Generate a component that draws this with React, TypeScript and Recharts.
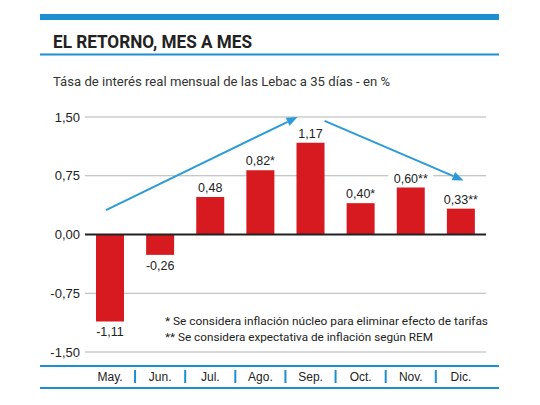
import { Bar, BarChart, CartesianGrid, LabelList, ReferenceLine, XAxis, YAxis } from "recharts";

const months = ["May.", "Jun.", "Jul.", "Ago.", "Sep.", "Oct.", "Nov.", "Dic."];
const rates = [-1.11, -0.26, 0.48, 0.82, 1.17, 0.4, 0.6, 0.33];
const notes = ["", "", "", "*", "", "*", "**", "**"];
const yTicks = [-1.5, -0.75, 0, 0.75, 1.5];

// trend arrows, in (month index, rate) units
const trendUp = [
  { x: -0.08, y: 0.31 },
  { x: 3.74, y: 1.5 },
];
const trendDown = [
  { x: 4.28, y: 1.45 },
  { x: 7.05, y: 0.69 },
];

const data = months.map((m, i) => ({ month: m, pos: i, rate: rates[i], note: notes[i] }));

const BLUE = "#1b8fcf";
const ARROW = "#2a9bd6";
const RED = "#d71920";
const TEXT = "#222";
const LABEL_FONT = "'Liberation Sans', Arial, sans-serif";
const NARROW_FONT = "Roboto, 'Noto Sans', sans-serif";

const fmt = (v: number) => v.toFixed(2).replace(".", ",");

function Arrow(props: any) {
  const { x1, y1, x2, y2 } = props;
  const ang = Math.atan2(y2 - y1, x2 - x1);
  const len = 11;
  const half = 4.5;
  const bx = x2 - len * Math.cos(ang);
  const by = y2 - len * Math.sin(ang);
  const px = -Math.sin(ang) * half;
  const py = Math.cos(ang) * half;
  return (
    <g>
      <line x1={x1} y1={y1} x2={bx} y2={by} stroke={ARROW} strokeWidth={2} />
      <polygon
        points={`${x2},${y2} ${bx + px},${by + py} ${bx - px},${by - py}`}
        fill={ARROW}
      />
    </g>
  );
}

function ValueLabel(props: any) {
  const { x, y, width, height, index } = props;
  const v = rates[index];
  const text = fmt(v) + notes[index];
  const top = Math.min(y, y + height);
  const bottom = Math.max(y, y + height);
  const cx = x + width / 2;
  const ty = v >= 0 ? top - 5 : bottom + 15;
  const w = text.length * 6.8 + 4;
  return (
    <g>
      <rect x={cx - w / 2} y={ty - 11} width={w} height={14} fill="#fff" />
      <text x={cx} y={ty} textAnchor="middle" fontSize={12.5} fill={TEXT} fontFamily={LABEL_FONT}>
        {text}
      </text>
    </g>
  );
}

function MonthTick(props: any) {
  const { x, y, payload } = props;
  const last = payload.index === months.length - 1;
  return (
    <g>
      <text x={x} y={y + 29} textAnchor="middle" fontSize={12} fill={TEXT} fontFamily={LABEL_FONT}>
        {payload.value}
      </text>
      {!last && <line x1={x + 25} x2={x + 25} y1={y + 18} y2={y + 31} stroke={BLUE} strokeWidth={2} />}
    </g>
  );
}

export default function App() {
  return (
    <div style={{ position: "absolute", left: 0, top: 0, width: 540, height: 405, background: "#fff" }}>
      <svg width={540} height={405} style={{ position: "absolute", left: 0, top: 0 }}>
        <rect x={40} y={14} width={459} height={6} fill={BLUE} />
        <text
          x={53}
          y={47.7}
          fontSize={19}
          fontWeight={700}
          fill={TEXT}
          fontFamily={NARROW_FONT}
          textLength={199}
          lengthAdjust="spacingAndGlyphs"
        >
          EL RETORNO, MES A MES
        </text>
        <rect x={40} y={53.5} width={459} height={2} fill={BLUE} />
        <text
          x={53}
          y={85.7}
          fontSize={13.5}
          fill="#333"
          fontFamily={NARROW_FONT}
          textLength={337}
          lengthAdjust="spacingAndGlyphs"
        >
          Tása de interés real mensual de las Lebac a 35 días - en %
        </text>
        <text
          x={165}
          y={325.3}
          fontSize={11.5}
          fill={TEXT}
          fontFamily={NARROW_FONT}
          textLength={323}
          lengthAdjust="spacingAndGlyphs"
        >
          * Se considera inflación núcleo para eliminar efecto de tarifas
        </text>
        <text
          x={165}
          y={341.3}
          fontSize={11.5}
          fill={TEXT}
          fontFamily={NARROW_FONT}
          textLength={268}
          lengthAdjust="spacingAndGlyphs"
        >
          ** Se considera expectativa de inflación según REM
        </text>
        <rect x={40} y={365} width={459} height={2} fill={BLUE} />
        <rect x={40} y={387} width={459} height={2} fill={BLUE} />
      </svg>
      <div style={{ position: "absolute", left: 0, top: 0 }}>
        <BarChart
          width={540}
          height={405}
          data={data}
          margin={{ top: 117, right: 54, bottom: 13, left: 40 }}
        >
          <CartesianGrid vertical={false} stroke="#b3b3b3" />
          <XAxis
            dataKey="month"
            axisLine={false}
            tickLine={false}
            tickSize={0}
            tickMargin={0}
            height={40}
            tick={<MonthTick />}
            interval={0}
          />
          {/* numeric twin of the month axis: index 0..7 sits on the bar centres */}
          <XAxis
            xAxisId="trend"
            dataKey="pos"
            type="number"
            domain={[0, 7]}
            padding={{ left: 25, right: 25 }}
            hide
          />
          <YAxis
            domain={[-1.5, 1.5]}
            ticks={yTicks}
            tickFormatter={fmt}
            axisLine={false}
            tickLine={false}
            tickSize={0}
            tickMargin={5}
            width={45}
            tick={{ fontSize: 13, fill: TEXT, fontFamily: LABEL_FONT }}
          />
          <ReferenceLine y={0} stroke={TEXT} strokeWidth={2} />
          <Bar dataKey="rate" fill={RED} barSize={28} isAnimationActive={false}>
            <LabelList dataKey="rate" content={<ValueLabel />} />
          </Bar>
          <ReferenceLine xAxisId="trend" segment={trendUp} ifOverflow="visible" shape={<Arrow />} />
          <ReferenceLine xAxisId="trend" segment={trendDown} ifOverflow="visible" shape={<Arrow />} />
        </BarChart>
      </div>
    </div>
  );
}
